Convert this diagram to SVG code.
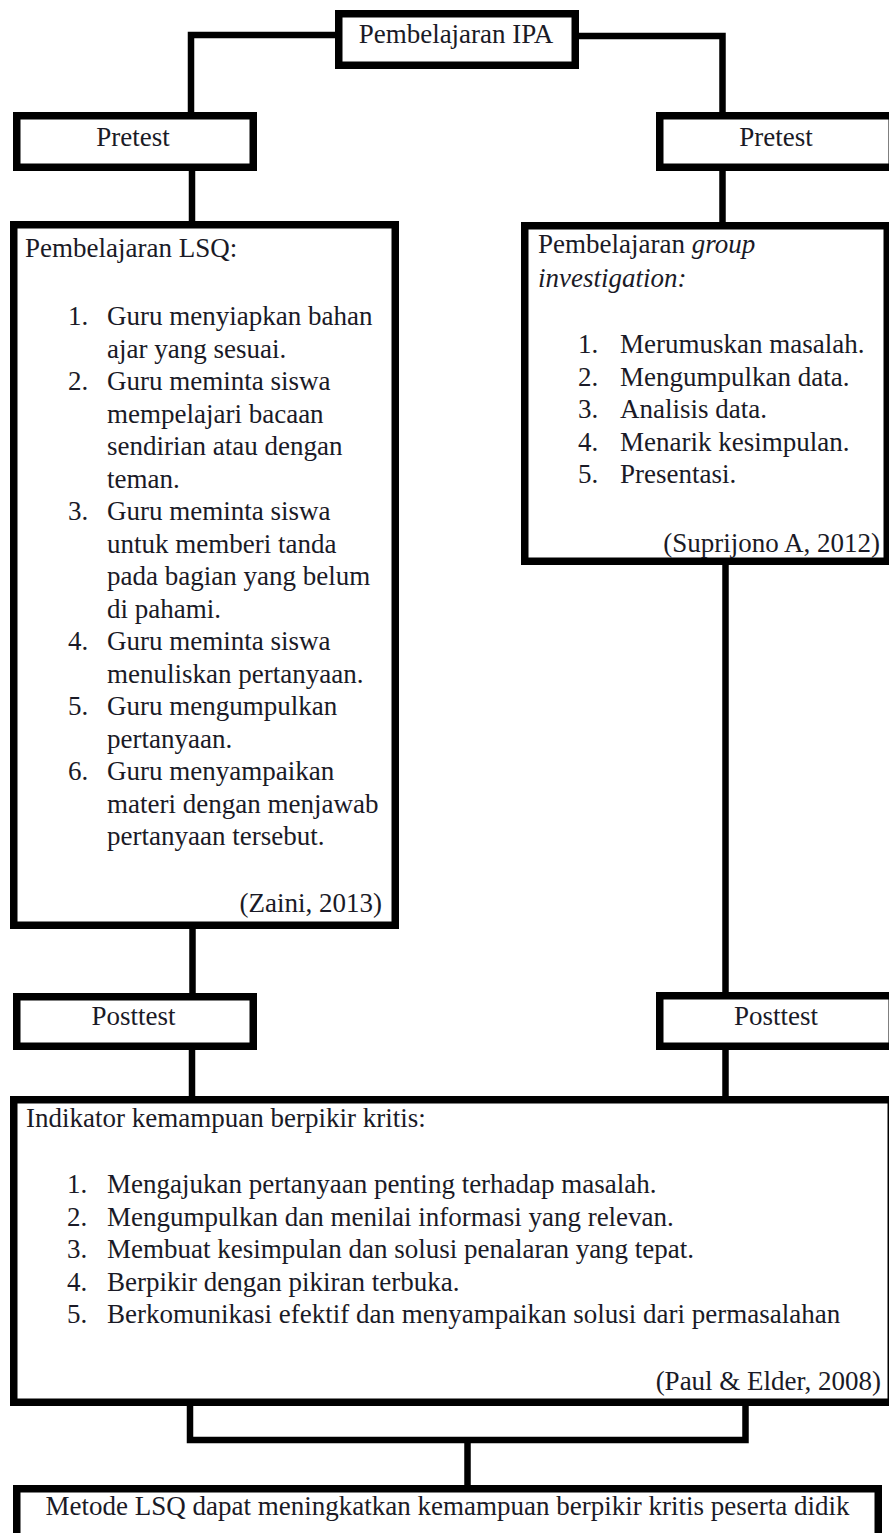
<svg xmlns="http://www.w3.org/2000/svg" width="889" height="1533" viewBox="0 0 889 1533">
<style>
.box{fill:#fff;stroke:#000;stroke-width:7.5}
.con{fill:none;stroke:#000;stroke-width:6.5;stroke-linejoin:miter;stroke-linecap:butt}
text{font-family:'Liberation Serif',Tinos,'DejaVu Serif',serif;font-size:27px;fill:#1a1a26}
.c{text-anchor:middle}
.r{text-anchor:end}
.i{font-style:italic}
</style>
<rect width="889" height="1533" fill="#fff"/>
<g id="connectors">
<path class="con" d="M335,35 H191 V112"/>
<path class="con" d="M579,36 H722.5 V112"/>
<path class="con" d="M192,171 V221"/>
<path class="con" d="M722.5,171 V222"/>
<path class="con" d="M192.5,929 V993"/>
<path class="con" d="M725.5,565 V992"/>
<path class="con" d="M192,1050 V1096"/>
<path class="con" d="M725.5,1050 V1096"/>
<path class="con" d="M190,1406 V1440 H745.5 V1406"/>
<path class="con" d="M467.5,1440 V1485"/>
</g>
<g id="ipa">
<rect class="box" x="338.75" y="13.75" width="236.5" height="51.5"/>
<text class="c" x="456" y="43">Pembelajaran IPA</text>
</g>
<g id="pretest-left">
<rect class="box" x="16.75" y="115.75" width="236.5" height="51.5"/>
<text class="c" x="133" y="146">Pretest</text>
</g>
<g id="pretest-right">
<rect class="box" x="659.75" y="115.75" width="232.5" height="51.5"/>
<text class="c" x="776" y="146">Pretest</text>
</g>
<g id="lsq">
<rect class="box" x="13.75" y="224.75" width="381.5" height="700.5"/>
<text x="25" y="257">Pembelajaran LSQ:</text>
<text x="68" y="325">1.</text><text x="107" y="325">Guru menyiapkan bahan</text>
<text x="107" y="357.5">ajar yang sesuai.</text>
<text x="68" y="390">2.</text><text x="107" y="390">Guru meminta siswa</text>
<text x="107" y="422.5">mempelajari bacaan</text>
<text x="107" y="455">sendirian atau dengan</text>
<text x="107" y="487.5">teman.</text>
<text x="68" y="520">3.</text><text x="107" y="520">Guru meminta siswa</text>
<text x="107" y="552.5">untuk memberi tanda</text>
<text x="107" y="585">pada bagian yang belum</text>
<text x="107" y="617.5">di pahami.</text>
<text x="68" y="650">4.</text><text x="107" y="650">Guru meminta siswa</text>
<text x="107" y="682.5">menuliskan pertanyaan.</text>
<text x="68" y="715">5.</text><text x="107" y="715">Guru mengumpulkan</text>
<text x="107" y="747.5">pertanyaan.</text>
<text x="68" y="780">6.</text><text x="107" y="780">Guru menyampaikan</text>
<text x="107" y="812.5">materi dengan menjawab</text>
<text x="107" y="845">pertanyaan tersebut.</text>
<text class="r" x="382" y="912">(Zaini, 2013)</text>
</g>
<g id="group-investigation">
<rect class="box" x="524.75" y="225.75" width="362.5" height="335.5"/>
<text x="538" y="253">Pembelajaran <tspan class="i">group</tspan></text>
<text class="i" x="538" y="287">investigation:</text>
<text x="578" y="353">1.</text><text x="620" y="353">Merumuskan masalah.</text>
<text x="578" y="385.5">2.</text><text x="620" y="385.5">Mengumpulkan data.</text>
<text x="578" y="418">3.</text><text x="620" y="418">Analisis data.</text>
<text x="578" y="450.5">4.</text><text x="620" y="450.5">Menarik kesimpulan.</text>
<text x="578" y="483">5.</text><text x="620" y="483">Presentasi.</text>
<text class="r" x="880" y="552">(Suprijono A, 2012)</text>
</g>
<g id="posttest-left">
<rect class="box" x="16.75" y="996.75" width="236.5" height="49.5"/>
<text class="c" x="133.5" y="1025">Posttest</text>
</g>
<g id="posttest-right">
<rect class="box" x="659.75" y="995.75" width="232.5" height="50.5"/>
<text class="c" x="776" y="1025">Posttest</text>
</g>
<g id="indikator">
<rect class="box" x="13.75" y="1099.75" width="877.5" height="302.5"/>
<text x="26" y="1127">Indikator kemampuan berpikir kritis:</text>
<text x="67" y="1193">1.</text><text x="107" y="1193">Mengajukan pertanyaan penting terhadap masalah.</text>
<text x="67" y="1225.5">2.</text><text x="107" y="1225.5">Mengumpulkan dan menilai informasi yang relevan.</text>
<text x="67" y="1258">3.</text><text x="107" y="1258">Membuat kesimpulan dan solusi penalaran yang tepat.</text>
<text x="67" y="1290.5">4.</text><text x="107" y="1290.5">Berpikir dengan pikiran terbuka.</text>
<text x="67" y="1323">5.</text><text x="107" y="1323">Berkomunikasi efektif dan menyampaikan solusi dari permasalahan</text>
<text class="r" x="881" y="1390">(Paul &amp; Elder, 2008)</text>
</g>
<g id="kesimpulan">
<rect class="box" x="16.75" y="1488.75" width="861.5" height="60"/>
<text class="c" x="447.5" y="1515">Metode LSQ dapat meningkatkan kemampuan berpikir kritis peserta didik</text>
</g>
</svg>
